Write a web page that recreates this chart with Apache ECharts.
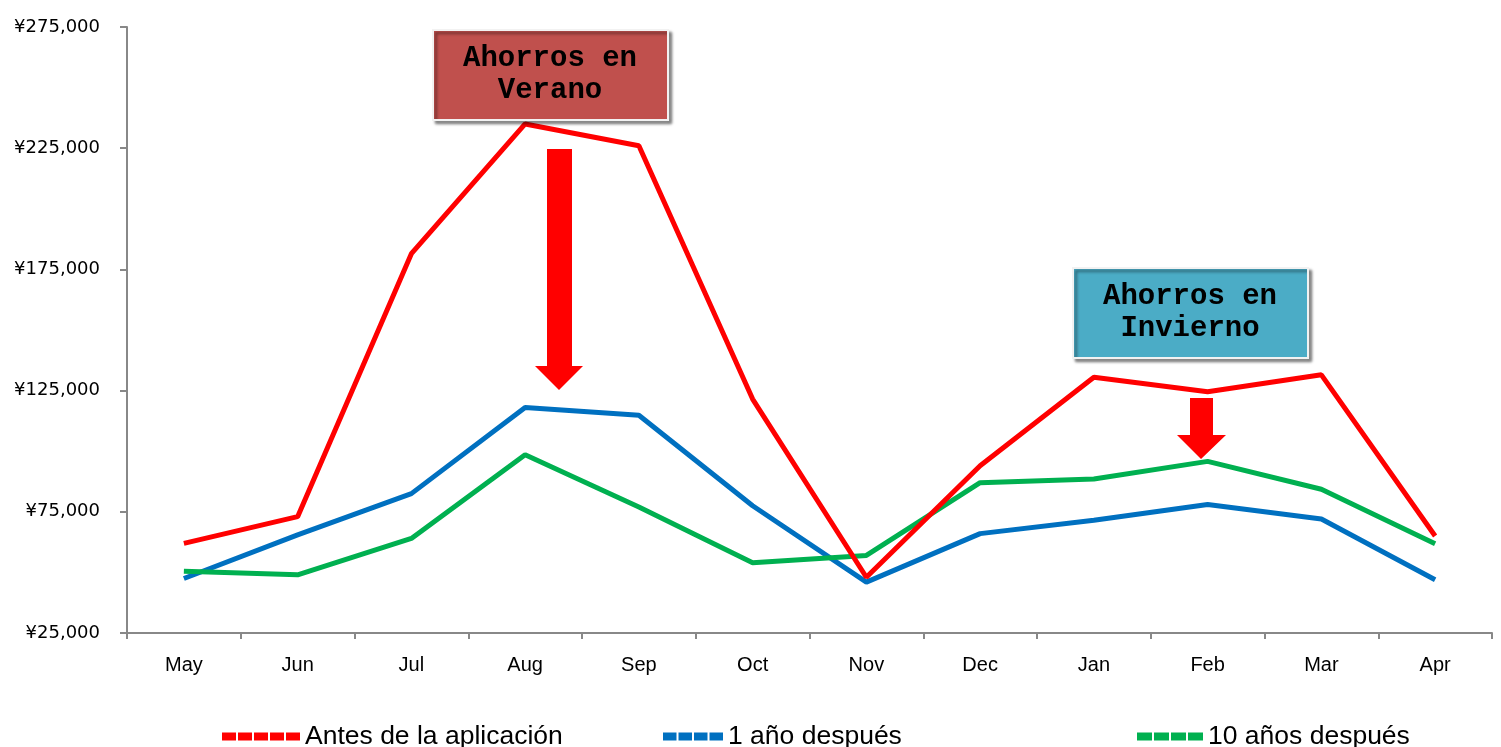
<!DOCTYPE html>
<html>
<head>
<meta charset="utf-8">
<script src="https://cdn.jsdelivr.net/npm/echarts@6/dist/echarts.min.js"></script>
<style>
html,body{margin:0;padding:0;background:#fff;}
#chart{width:1501px;height:747px;}
</style>
</head>
<body>
<div id="chart"></div>
<script>
const months = ['May','Jun','Jul','Aug','Sep','Oct','Nov','Dec','Jan','Feb','Mar','Apr'];
const antes = [62000, 73000, 181500, 235000, 226000, 121500, 48000, 94000, 130500, 124500, 131500, 65000];
const unAno = [47500, 65500, 82500, 118000, 114800, 77500, 46000, 66000, 71500, 78000, 72000, 47000];
const diezAnos = [50500, 49000, 64000, 98500, 77000, 54000, 57000, 87000, 88500, 95800, 84300, 61800];
const seriesNames = ['Antes de la aplicación', '1 año después', '10 años después'];
const yTicks = [25000, 75000, 125000, 175000, 225000, 275000];

const chart = echarts.init(document.getElementById('chart'));

function dashIcon(n, sq){
  let p = 'path://';
  for (let i=0;i<n;i++){ const x=i*(sq+2); p += 'M'+x+',0h'+sq+'v8h-'+sq+'z'; }
  return p;
}

const legendText = {fontFamily:'Liberation Sans', fontSize:26.5, color:'#000'};

chart.setOption({
  animation:false,
  grid:{left:127, right:9, top:27, bottom:114},
  xAxis:{
    type:'category', data:months, boundaryGap:true,
    axisLine:{lineStyle:{color:'#888', width:2}},
    axisTick:{show:true, length:6, lineStyle:{color:'#888', width:2}},
    axisLabel:{fontFamily:'Liberation Sans', fontSize:20, color:'#000', margin:22}
  },
  yAxis:{
    type:'value', min:yTicks[0], max:yTicks[yTicks.length-1], interval:50000,
    axisLine:{show:true, lineStyle:{color:'#888', width:2}},
    axisTick:{show:true, length:7, lineStyle:{color:'#888', width:2}},
    splitLine:{show:false},
    axisLabel:{fontFamily:'DejaVu Sans', fontSize:18, color:'#000', margin:27,
      formatter:v=>'¥'+v.toLocaleString('en-US')}
  },
  legend:[
    {data:[seriesNames[0]], left:222, top:723, icon:dashIcon(5,14), itemWidth:78, itemHeight:8, textStyle:legendText, padding:0},
    {data:[seriesNames[1]], left:663, top:723, icon:dashIcon(4,13.5), itemWidth:60, itemHeight:8, textStyle:legendText, padding:0},
    {data:[seriesNames[2]], left:1137, top:723, icon:dashIcon(4,15), itemWidth:66, itemHeight:8, textStyle:legendText, padding:0}
  ],
  series:[
    {name:seriesNames[0], type:'line', data:antes, showSymbol:false, symbol:'none', itemStyle:{color:'#FF0000'}, lineStyle:{color:'#FF0000', width:5}, z:3},
    {name:seriesNames[1], type:'line', data:unAno, showSymbol:false, symbol:'none', itemStyle:{color:'#0070C0'}, lineStyle:{color:'#0070C0', width:5}, z:2},
    {name:seriesNames[2], type:'line', data:diezAnos, showSymbol:false, symbol:'none', itemStyle:{color:'#00B050'}, lineStyle:{color:'#00B050', width:5}, z:2}
  ],
  graphic:[
    {type:'rect', shape:{x:433, y:30, width:235, height:90}, z:10,
      style:{fill:'#C0504D', stroke:'#F2F2F2', lineWidth:2, shadowBlur:3, shadowOffsetX:3, shadowOffsetY:3, shadowColor:'rgba(0,0,0,0.45)'}},
    {type:'text', x:550, y:75, z:11, style:{text:'Ahorros en\nVerano', fontFamily:'Liberation Mono', fontWeight:'bold', fontSize:29, lineHeight:32, fill:'#000', align:'center', verticalAlign:'middle'}},
    {type:'polygon', z:9, shape:{points:[[547,149],[572,149],[572,366],[583,366],[559,390],[535,366],[547,366]]}, style:{fill:'#FF0000'}},
    {type:'rect', shape:{x:1073, y:268, width:235, height:90}, z:10,
      style:{fill:'#4BACC6', stroke:'#F2F2F2', lineWidth:2, shadowBlur:3, shadowOffsetX:3, shadowOffsetY:3, shadowColor:'rgba(0,0,0,0.45)'}},
    {type:'text', x:1190, y:313, z:11, style:{text:'Ahorros en\nInvierno', fontFamily:'Liberation Mono', fontWeight:'bold', fontSize:29, lineHeight:32, fill:'#000', align:'center', verticalAlign:'middle'}},
    {type:'polygon', z:9, shape:{points:[[1190,398],[1213,398],[1213,435],[1226,435],[1201,459],[1177,435],[1190,435]]}, style:{fill:'#FF0000'}}
  ]
});
</script>
</body>
</html>
